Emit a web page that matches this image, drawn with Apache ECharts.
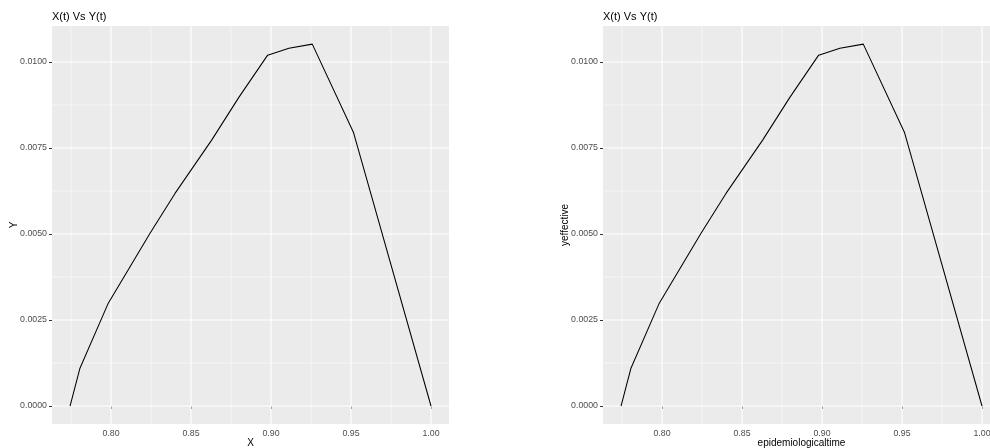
<!DOCTYPE html>
<html>
<head>
<meta charset="utf-8">
<script src="https://cdn.jsdelivr.net/npm/echarts@6/dist/echarts.min.js"></script>
<style>
  html, body { margin: 0; padding: 0; background: #fff; }
  #chart { width: 990px; height: 448px; }
</style>
</head>
<body>
<div id="chart"></div>
<script>
// Trajectory of the epidemic: X(t) (susceptible share) against Y(t) (infective share)
const xValues = [0.7744, 0.7806, 0.7983, 0.8244, 0.8400, 0.8629, 0.8800, 0.8979, 0.9112, 0.9258, 0.9515, 1.0000];
const yValues = [0.0000, 0.00110, 0.00299, 0.00502, 0.00618, 0.00773, 0.00898, 0.01020, 0.01040, 0.01052, 0.00796, 0.0000];

// Axis breaks
const xMajorTicks = [0.80, 0.85, 0.90, 0.95, 1.00];
const xMinorTicks = [0.775, 0.825, 0.875, 0.925, 0.975];
const yMajorTicks = [0.0000, 0.0025, 0.0050, 0.0075, 0.0100];
const yMinorTicks = [0.00125, 0.00375, 0.00625, 0.00875];

// Axis limits (data range expanded by 5% on each side)
const xLimits = [0.763125, 1.01125];
const yLimits = [-0.000523, 0.011047];

const panelTitles = ['X(t) Vs Y(t)', 'X(t) Vs Y(t)'];
const xNames = ['X', 'epidemiologicaltime'];
const yNames = ['Y', 'yeffective'];

const points = xValues.map((x, i) => [x, yValues[i]]);

const FONT = '"Liberation Sans", Arial, sans-serif';
const panelLefts = [52, 603];

// Panel grid lines (white on grey), drawn through the axes' own scales
function gridLineSeries(idx, vertical) {
  const major = vertical ? xMajorTicks : yMajorTicks;
  const minor = vertical ? xMinorTicks : yMinorTicks;
  const data = minor.map(v => vertical ? [v, yLimits[0], 0] : [xLimits[0], v, 0])
    .concat(major.map(v => vertical ? [v, yLimits[0], 1] : [xLimits[0], v, 1]));
  return {
    type: 'custom',
    coordinateSystem: 'cartesian2d',
    xAxisIndex: idx,
    yAxisIndex: idx,
    silent: true,
    z: 1,
    data: data,
    renderItem: function (params, api) {
      const cs = params.coordSys;
      const p = api.coord([api.value(0), api.value(1)]);
      const isMajor = api.value(2) === 1;
      const shape = vertical
        ? { x1: p[0], y1: cs.y, x2: p[0], y2: cs.y + cs.height }
        : { x1: cs.x, y1: p[1], x2: cs.x + cs.width, y2: p[1] };
      return {
        type: 'line',
        shape: shape,
        style: { stroke: '#ffffff', lineWidth: isMajor ? 1.1 : 0.55 }
      };
    }
  };
}

const option = {
  animation: false,
  backgroundColor: '#ffffff',
  textStyle: { fontFamily: FONT },
  title: panelTitles.map((t, i) => ({
    text: t,
    left: panelLefts[i],
    top: 11,
    padding: 0,
    textStyle: { fontFamily: FONT, fontSize: 11, fontWeight: 'normal', color: '#000000' }
  })),
  grid: panelLefts.map(l => ({
    left: l,
    top: 26,
    width: 397,
    height: 398,
    show: true,
    backgroundColor: '#EBEBEB',
    borderWidth: 0,
    containLabel: false,
    outerBoundsMode: 'none'
  })),
  xAxis: [0, 1].map(i => ({
    type: 'value',
    gridIndex: i,
    min: xLimits[0],
    max: xLimits[1],
    name: xNames[i],
    nameLocation: 'middle',
    nameGap: 14,
    nameMoveOverlap: false,
    nameTextStyle: { fontFamily: FONT, fontSize: 10, color: '#000000' },
    axisLine: { show: false },
    axisTick: { show: true, length: 3, customValues: xMajorTicks, lineStyle: { color: '#333333', width: 1 } },
    axisLabel: {
      customValues: xMajorTicks,
      margin: 5,
      fontFamily: FONT, fontSize: 8.8, color: '#4D4D4D',
      formatter: v => v.toFixed(2)
    },
    splitLine: { show: false },
    minorSplitLine: { show: false }
  })),
  yAxis: [0, 1].map(i => ({
    type: 'value',
    gridIndex: i,
    min: yLimits[0],
    max: yLimits[1],
    name: yNames[i],
    nameLocation: 'middle',
    nameGap: 33,
    nameMoveOverlap: false,
    nameRotate: 90,
    nameTextStyle: { fontFamily: FONT, fontSize: 10, color: '#000000' },
    axisLine: { show: false },
    axisTick: { show: true, length: 3, customValues: yMajorTicks, lineStyle: { color: '#333333', width: 1 } },
    axisLabel: {
      customValues: yMajorTicks,
      margin: 5,
      fontFamily: FONT, fontSize: 8.8, color: '#4D4D4D',
      formatter: v => v.toFixed(4)
    },
    splitLine: { show: false },
    minorSplitLine: { show: false }
  })),
  series: [
    gridLineSeries(0, true),
    gridLineSeries(0, false),
    gridLineSeries(1, true),
    gridLineSeries(1, false),
    {
      type: 'line',
      xAxisIndex: 0,
      yAxisIndex: 0,
      data: points,
      showSymbol: false,
      z: 5,
      lineStyle: { color: '#000000', width: 1.05 }
    },
    {
      type: 'line',
      xAxisIndex: 1,
      yAxisIndex: 1,
      data: points,
      showSymbol: false,
      z: 5,
      lineStyle: { color: '#000000', width: 1.05 }
    }
  ]
};

const chart = echarts.init(document.getElementById('chart'), null, { renderer: 'canvas' });
chart.setOption(option);
</script>
</body>
</html>
